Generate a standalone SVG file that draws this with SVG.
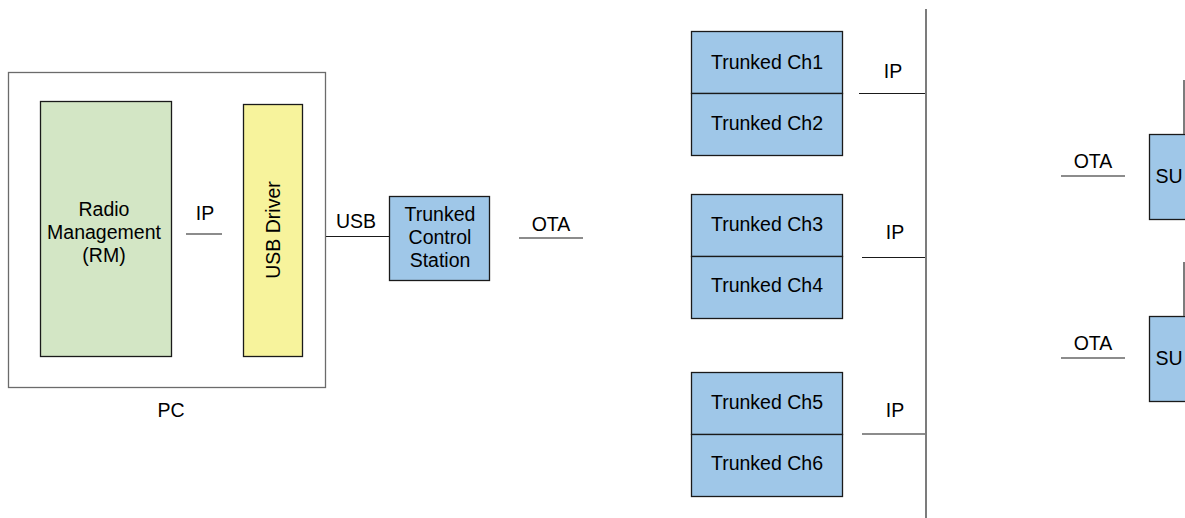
<svg xmlns="http://www.w3.org/2000/svg" width="1185" height="518" viewBox="0 0 1185 518">
<style>
text{font-family:"Liberation Sans",Arial,sans-serif;font-size:19.5px;fill:#000;text-anchor:middle}
.box{stroke:#1a1a1a;stroke-width:1.3}
.blue{fill:#9fc7e8}
.ln{stroke:#1a1a1a;stroke-width:1.2;fill:none}
.gl{stroke:#6e6e6e;stroke-width:1.8;fill:none}
</style>
<rect width="1185" height="518" fill="#fff"/>
<g id="pc">
<rect x="8.5" y="72.5" width="317" height="315" fill="#fff" stroke="#6b6b6b" stroke-width="1.3"/>
<text x="171" y="417">PC</text>
</g>
<g id="rm">
<rect class="box" x="40.5" y="101.5" width="131" height="255" fill="#d3e6c5"/>
<text x="104" y="216">Radio</text>
<text x="104" y="239">Management</text>
<text x="104" y="262">(RM)</text>
</g>
<g id="usbdriver">
<rect class="box" x="243.5" y="104.5" width="59" height="252" fill="#f7f39c"/>
<text transform="translate(280 230) rotate(-90)">USB Driver</text>
</g>
<g id="tcs">
<rect class="box blue" x="389.5" y="196.5" width="100" height="84"/>
<text x="440" y="221">Trunked</text>
<text x="440" y="244">Control</text>
<text x="440" y="267">Station</text>
</g>
<g id="ch12">
<rect class="box blue" x="691.5" y="31.5" width="151" height="62"/>
<rect class="box blue" x="691.5" y="93.5" width="151" height="62"/>
<text x="767" y="69">Trunked Ch1</text>
<text x="767" y="130">Trunked Ch2</text>
</g>
<g id="ch34">
<rect class="box blue" x="691.5" y="194.5" width="151" height="62"/>
<rect class="box blue" x="691.5" y="256.5" width="151" height="62"/>
<text x="767" y="231">Trunked Ch3</text>
<text x="767" y="292">Trunked Ch4</text>
</g>
<g id="ch56">
<rect class="box blue" x="691.5" y="372.5" width="151" height="62"/>
<rect class="box blue" x="691.5" y="434.5" width="151" height="62"/>
<text x="767" y="409">Trunked Ch5</text>
<text x="767" y="470">Trunked Ch6</text>
</g>
<g id="su1">
<rect class="box blue" x="1149.5" y="134.5" width="40" height="85"/>
<text x="1169" y="183">SU</text>
</g>
<g id="su2">
<rect class="box blue" x="1149.5" y="316.5" width="40" height="85"/>
<text x="1169" y="365">SU</text>
</g>
<g id="connectors">
<line class="ln" x1="186" y1="234" x2="222" y2="234"/>
<text x="205" y="220">IP</text>
<line class="ln" x1="326" y1="236.5" x2="389" y2="236.5"/>
<text x="356" y="228">USB</text>
<line class="ln" x1="519" y1="238" x2="583" y2="238"/>
<text x="551" y="231">OTA</text>
<line class="gl" x1="926" y1="9" x2="926" y2="518"/>
<line class="ln" x1="859" y1="93.5" x2="925" y2="93.5"/>
<text x="893" y="78">IP</text>
<line class="ln" x1="862" y1="257.5" x2="925" y2="257.5"/>
<text x="895" y="239">IP</text>
<line class="ln" x1="862" y1="434" x2="925" y2="434"/>
<text x="895" y="417">IP</text>
<line class="ln" x1="1061" y1="176" x2="1125" y2="176"/>
<text x="1093" y="168">OTA</text>
<line class="ln" x1="1061" y1="358" x2="1125" y2="358"/>
<text x="1093" y="350">OTA</text>
<line class="gl" x1="1184" y1="80" x2="1184" y2="134"/>
<line class="gl" x1="1184" y1="262" x2="1184" y2="316"/>
</g>
</svg>
